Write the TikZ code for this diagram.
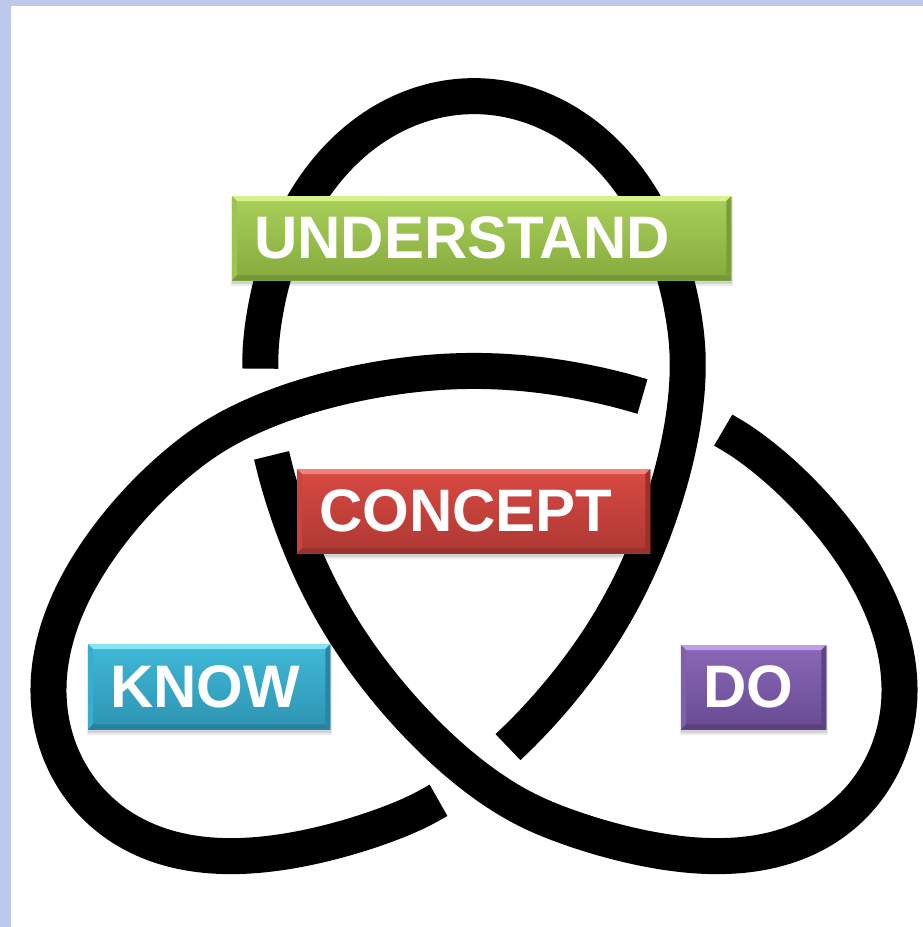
\documentclass[tikz,border=0pt]{standalone}
\usepackage{fontspec}
\setmainfont{Liberation Sans}
\definecolor{bordercol}{HTML}{BDC9EA}
% green
\definecolor{gT}{HTML}{A8D05A}\definecolor{gB}{HTML}{86AA3C}\definecolor{gL}{HTML}{D6F28A}
\definecolor{gS}{HTML}{9CC450}\definecolor{gR}{HTML}{7C9E36}\definecolor{gD}{HTML}{76963A}
% red
\definecolor{rT}{HTML}{D84A43}\definecolor{rB}{HTML}{AE3833}\definecolor{rL}{HTML}{F2817A}
\definecolor{rS}{HTML}{CC433D}\definecolor{rR}{HTML}{9E302C}\definecolor{rD}{HTML}{98302B}
% cyan
\definecolor{cT}{HTML}{40B9D8}\definecolor{cB}{HTML}{2E93B2}\definecolor{cL}{HTML}{86E3F8}
\definecolor{cS}{HTML}{39ADCB}\definecolor{cR}{HTML}{2A87A3}\definecolor{cD}{HTML}{27809B}
% purple
\definecolor{pT}{HTML}{8A69B8}\definecolor{pB}{HTML}{684A92}\definecolor{pL}{HTML}{BE9DEB}
\definecolor{pS}{HTML}{8060AD}\definecolor{pR}{HTML}{5E4385}\definecolor{pD}{HTML}{5A4080}
\tikzset{
  knot/.style={line width=36pt, black, line join=round},
  boxtxt/.style={inner sep=0pt, text=white, font=\fontsize{60}{62}\selectfont\bfseries, anchor=west},
  boxbase/.style={inner sep=0pt, anchor=north west, draw=none},
  declare function={
    ex(\t)=sin(\t)+2.3*sin(2*\t);
    ey(\t)=cos(\t)-2.3*cos(2*\t);
    ph(\t)=atan2(ey(\t),ex(\t));
    rr(\t)=sqrt(ex(\t)*ex(\t)+ey(\t)*ey(\t));
    go(\t)=min(1,max(0,(rr(\t)-2.2)/1.1));
    gg(\t)=go(\t)*go(\t)*(3-2*go(\t));
    qq(\t)=min(1,max(0,(2.2-rr(\t))/1.0));
    pp(\t)=qq(\t)*qq(\t)*(3-2*qq(\t));
    hh(\t)=(1+sin(3*ph(\t)))/2*(1+sin(ph(\t)))/1.5;
    ff(\t)=1+0.075*hh(\t)*gg(\t)-0.06*pp(\t);
    kx(\t)=474+132.4*ff(\t)*ex(\t);
    ky(\t)=533+132.4*ff(\t)*ey(\t);
  },
}
\newcommand\bevbox[7]{%
  \fill[black, opacity=0.08] (#2-1,#3+1) rectangle ++(#4+3,#5+5);
  \fill[black, opacity=0.10] (#2,#3+2) rectangle ++(#4+1,#5+2);
  \node[boxbase, minimum width=#4pt, minimum height=#5pt, top color=#6T, bottom color=#6B] (#1) at (#2,#3) {};
  \fill[#6L] (#1.north west) -- (#1.north east) -- ([shift={(-5pt,-5pt)}]#1.north east) -- ([shift={(5pt,-5pt)}]#1.north west) -- cycle;
  \fill[#6S] (#1.north west) -- ([shift={(5pt,-5pt)}]#1.north west) -- ([shift={(5pt,5pt)}]#1.south west) -- (#1.south west) -- cycle;
  \fill[#6R] (#1.north east) -- ([shift={(-5pt,-5pt)}]#1.north east) -- ([shift={(-5pt,5pt)}]#1.south east) -- (#1.south east) -- cycle;
  \fill[#6D] (#1.south west) -- ([shift={(5pt,5pt)}]#1.south west) -- ([shift={(-5pt,5pt)}]#1.south east) -- (#1.south east) -- cycle;
  \node[boxtxt] (#1t) at ([xshift=22pt]#1.west) {#7};
}
\begin{document}
\begin{tikzpicture}[x=1pt,y=-1pt]
\useasboundingbox (0,0) rectangle (923,927);
\fill[white] (0,0) rectangle (923,927);
\fill[bordercol] (0,0) rectangle (11,927);
\fill[bordercol] (0,0) rectangle (923,6);
% trefoil knot: three arcs, each passes over one crossing and ends before the next
\draw[knot] plot[smooth, domain=140.9:253.9, samples=70] ({kx(\x)},{ky(\x)});
\draw[knot] plot[smooth, domain=260.9:373.9, samples=70] ({kx(\x)},{ky(\x)});
\draw[knot] plot[smooth, domain=20.9:133.9, samples=70] ({kx(\x)},{ky(\x)});
% boxes
\bevbox{understand}{232}{196}{499}{84}{g}{UNDERSTAND}
\bevbox{concept}{297}{469}{353}{84}{r}{CONCEPT}
\bevbox{know}{88}{644}{242}{85}{c}{KNOW}
\bevbox{do}{681}{645}{145}{84}{p}{DO}
\end{tikzpicture}
\end{document}
